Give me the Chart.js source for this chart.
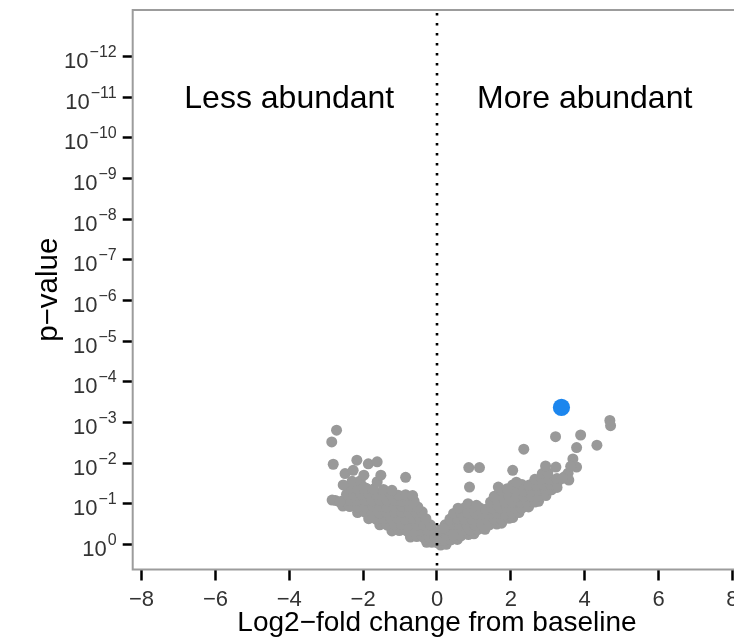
<!DOCTYPE html>
<html>
<head>
<meta charset="utf-8">
<script src="https://cdn.jsdelivr.net/npm/chart.js@4.4.1/dist/chart.umd.min.js"></script>
<style>
  html, body { margin: 0; padding: 0; background: #fff; overflow: hidden; }
  #wrap { width: 760px; height: 641px; }
</style>
</head>
<body>
<div id="wrap"><canvas id="volcano" width="760" height="641"></canvas></div>
<script>
// Axis ticks: log2 fold change, and -log10(p) exponents
const xTicks = [-8, -6, -4, -2, 0, 2, 4, 6, 8];
const yExponents = [0, 1, 2, 3, 4, 5, 6, 7, 8, 9, 10, 11, 12];

// Region captions and where they sit (x in log2FC, y in -log10 p)
const regionLabels = ['Less abundant', 'More abundant'];
const regionLabelX = [-4, 4];
const regionLabelY = 11;

// Highlighted feature [log2FC, -log10 p]
const highlighted = [[3.37, 3.37]];

// Features with lower abundance [log2FC, -log10 p]
const lessAbundant = [
  [-0.28, 0.05], [-0.14, 0.05], [0.0, 0.04],
  [-0.72, 0.18], [-0.55, 0.19], [-0.38, 0.18], [-0.2, 0.17], [-0.05, 0.18],
  [-1.22, 0.33], [-1.02, 0.34], [-0.82, 0.33], [-0.62, 0.32], [-0.42, 0.33], [-0.24, 0.34], [-0.08, 0.33],
  [-1.55, 0.48], [-1.35, 0.47], [-1.15, 0.48], [-0.95, 0.49], [-0.75, 0.48], [-0.55, 0.47], [-0.35, 0.48], [-0.18, 0.48],
  [-1.85, 0.63], [-1.65, 0.62], [-1.45, 0.63], [-1.25, 0.64], [-1.05, 0.63], [-0.85, 0.62], [-0.65, 0.63], [-0.46, 0.64], [-0.30, 0.63],
  [-2.15, 0.78], [-1.95, 0.79], [-1.75, 0.78], [-1.55, 0.77], [-1.35, 0.78], [-1.15, 0.79], [-0.95, 0.78], [-0.75, 0.77], [-0.56, 0.78], [-0.40, 0.80],
  [-2.55, 0.94], [-2.36, 0.93], [-2.15, 0.92], [-1.95, 0.93], [-1.75, 0.94], [-1.55, 0.93], [-1.35, 0.92], [-1.15, 0.93], [-0.95, 0.94], [-0.75, 0.93], [-0.52, 0.92],
  [-2.75, 1.08], [-2.55, 1.07], [-2.35, 1.08], [-2.15, 1.09], [-1.95, 1.08], [-1.75, 1.07], [-1.55, 1.08], [-1.35, 1.09], [-1.15, 1.08], [-0.95, 1.07], [-0.78, 1.08], [-0.62, 1.06],
  [-2.45, 1.23], [-2.25, 1.22], [-2.05, 1.23], [-1.85, 1.24], [-1.65, 1.23], [-1.45, 1.22], [-1.25, 1.23], [-1.05, 1.21], [-0.85, 1.22],
  [-2.38, 1.38], [-2.15, 1.37], [-1.92, 1.38], [-1.72, 1.36], [-1.45, 1.35], [-1.22, 1.33],
  [-2.30, 1.55], [-2.08, 1.56], [-1.62, 1.54],
  [-2.72, 2.81], [-2.85, 2.52], [-2.81, 1.97], [-2.17, 2.07], [-1.86, 1.98], [-1.62, 2.03], [-0.85, 1.65],
  [-2.49, 1.74], [-2.27, 1.82], [-1.98, 1.70], [-1.52, 1.70], [-2.54, 1.46], [-1.99, 1.41],
  [-2.84, 1.09], [-2.63, 1.04], [-0.66, 1.20]
];

// Features with higher abundance [log2FC, -log10 p]
const moreAbundant = [
  [0.10, -0.02], [0.25, 0.0],
  [0.02, 0.10], [0.20, 0.10], [0.38, 0.11], [0.55, 0.12],
  [0.05, 0.22], [0.25, 0.23], [0.45, 0.22], [0.65, 0.21], [0.85, 0.24], [1.00, 0.26],
  [0.10, 0.35], [0.30, 0.36], [0.50, 0.35], [0.70, 0.34], [0.90, 0.35], [1.10, 0.36], [1.30, 0.37],
  [0.22, 0.48], [0.42, 0.49], [0.62, 0.48], [0.82, 0.47], [1.02, 0.48], [1.22, 0.49], [1.42, 0.48], [1.62, 0.50], [1.75, 0.52],
  [0.35, 0.62], [0.55, 0.63], [0.75, 0.62], [0.95, 0.61], [1.15, 0.62], [1.35, 0.63], [1.55, 0.62], [1.75, 0.61], [1.95, 0.64], [2.05, 0.66],
  [0.45, 0.76], [0.65, 0.77], [0.85, 0.76], [1.05, 0.75], [1.25, 0.76], [1.45, 0.77], [1.65, 0.76], [1.85, 0.75], [2.05, 0.76], [2.22, 0.78],
  [0.75, 0.90], [0.95, 0.91], [1.15, 0.90], [1.32, 0.86], [1.50, 0.89], [1.70, 0.90], [1.90, 0.91], [2.10, 0.90], [2.30, 0.89], [2.48, 0.92],
  [1.45, 1.04], [1.65, 1.05], [1.85, 1.04], [2.05, 1.03], [2.25, 1.04], [2.45, 1.05], [2.65, 1.04], [2.75, 1.06],
  [1.55, 1.18], [1.75, 1.19], [1.95, 1.18], [2.15, 1.17], [2.35, 1.18], [2.55, 1.19], [2.75, 1.18], [2.95, 1.20],
  [1.75, 1.32], [1.95, 1.33], [2.15, 1.32], [2.35, 1.31], [2.55, 1.32], [2.75, 1.33], [2.95, 1.32], [3.10, 1.34], [3.25, 1.40],
  [2.05, 1.46], [2.30, 1.47], [2.50, 1.46], [2.70, 1.45], [2.90, 1.46], [3.08, 1.47], [3.25, 1.50],
  [2.65, 1.60], [2.85, 1.61], [3.05, 1.60], [3.25, 1.62],
  [2.85, 1.74], [3.00, 1.76],
  [4.68, 3.05], [4.70, 2.92], [3.21, 2.65], [3.89, 2.69], [3.78, 2.38], [4.33, 2.44], [2.35, 2.34],
  [0.86, 1.89], [1.15, 1.89], [2.05, 1.82], [0.88, 1.41], [2.94, 1.93], [3.22, 1.90], [3.68, 2.10],
  [3.78, 1.90], [3.45, 1.66], [3.55, 1.75], [3.57, 1.58], [3.40, 1.62], [3.62, 1.92],
  [0.57, 0.89], [0.84, 1.00], [1.07, 0.96], [1.66, 1.41], [1.90, 1.37], [2.15, 1.53], [0.18, 0.39]
];

const FONT = '"Liberation Sans", Arial, Helvetica, sans-serif';
Chart.defaults.font.family = FONT;

const toPoints = arr => arr.map(([x, y]) => ({ x, y }));
const minus = '\u2212';

// Frame, dotted zero line, superscript p-value ticks and region captions
const decorations = {
  id: 'decorations',
  afterDatasetsDraw(chart) {
    const { ctx, chartArea: a, scales: { x } } = chart;
    const px = x.getPixelForValue(0);
    ctx.save();
    ctx.strokeStyle = '#000';
    ctx.lineWidth = 2.6;
    ctx.setLineDash([2.6, 7.4]);
    ctx.beginPath();
    ctx.moveTo(px, a.top + 3);
    ctx.lineTo(px, a.bottom);
    ctx.stroke();
    ctx.restore();
  },
  afterDraw(chart) {
    const { ctx, chartArea: a, scales: { x, y } } = chart;
    ctx.save();
    // plot frame
    ctx.strokeStyle = '#9c9c9c';
    ctx.lineWidth = 2;
    ctx.strokeRect(a.left, a.top, a.right - a.left, a.bottom - a.top);

    // y tick labels as 10^-n
    const right = a.left - 16;
    ctx.fillStyle = '#333';
    ctx.textAlign = 'left';
    ctx.textBaseline = 'alphabetic';
    yExponents.forEach(e => {
      const ty = y.getPixelForValue(e);
      const expText = e === 0 ? '0' : minus + e;
      ctx.font = '16px ' + FONT;
      const ew = ctx.measureText(expText).width;
      ctx.fillText(expText, right - ew, ty + 0.5);
      ctx.font = '22px ' + FONT;
      const bw = ctx.measureText('10').width;
      ctx.fillText('10', right - ew - 1 - bw, ty + 11.5);
    });

    // region captions
    ctx.fillStyle = '#000';
    ctx.font = '32px ' + FONT;
    ctx.textAlign = 'center';
    regionLabels.forEach((t, i) => {
      ctx.fillText(t, x.getPixelForValue(regionLabelX[i]), y.getPixelForValue(regionLabelY) + 11);
    });
    ctx.restore();
  }
};

new Chart(document.getElementById('volcano'), {
  type: 'scatter',
  data: {
    datasets: [
      {
        label: 'Highlighted',
        data: toPoints(highlighted),
        backgroundColor: '#1C86EE',
        borderWidth: 0,
        pointRadius: 8.6,
        order: 0
      },
      {
        label: 'Features',
        data: toPoints(lessAbundant.concat(moreAbundant)),
        backgroundColor: '#999999',
        borderWidth: 0,
        pointRadius: 5.5,
        order: 1
      }
    ]
  },
  options: {
    responsive: false,
    animation: false,
    events: [],
    layout: { padding: { top: 10, right: 18.7, bottom: 0, left: 0 } },
    plugins: { legend: { display: false }, tooltip: { enabled: false } },
    scales: {
      x: {
        type: 'linear',
        min: -8.24,
        max: 8.24,
        afterBuildTicks: s => { s.ticks = xTicks.map(v => ({ value: v })); },
        afterFit: s => { s.height = 71.5; },
        grid: { drawOnChartArea: false, drawTicks: true, tickLength: 11, tickWidth: 2.5, tickColor: '#000' },
        border: { display: false },
        ticks: {
          autoSkip: false,
          maxRotation: 0,
          padding: 6,
          color: '#333',
          font: { size: 22 },
          callback: v => (v < 0 ? minus + Math.abs(v) : String(v))
        },
        title: {
          display: true,
          text: 'Log2' + minus + 'fold change from baseline',
          color: '#000',
          font: { size: 28 },
          padding: { top: 0, bottom: 1 }
        }
      },
      y: {
        type: 'linear',
        min: -0.62,
        max: 13.15,
        afterBuildTicks: s => { s.ticks = yExponents.map(v => ({ value: v })); },
        afterFit: s => { s.width = 132.7; },
        grid: { drawOnChartArea: false, drawTicks: true, tickLength: 10, tickWidth: 2.5, tickColor: '#000' },
        border: { display: false },
        ticks: { display: false },
        title: {
          display: true,
          text: 'p' + minus + 'value',
          color: '#000',
          font: { size: 29.5 },
          padding: { top: 31, bottom: 0 }
        }
      }
    }
  },
  plugins: [decorations]
});
</script>
</body>
</html>
